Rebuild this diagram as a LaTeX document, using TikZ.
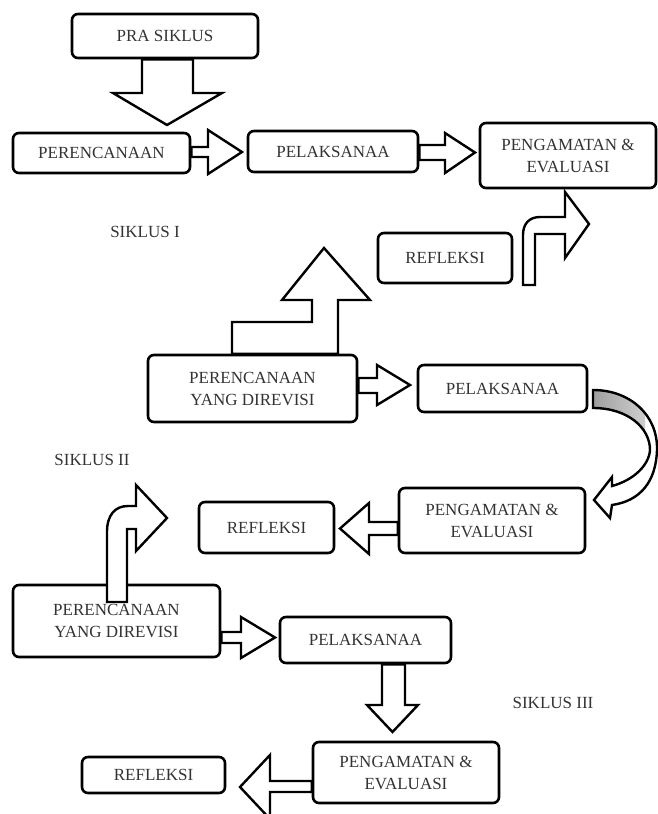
\documentclass[tikz,border=0pt]{standalone}
\usepackage{fontspec}
\setmainfont{Liberation Serif}
\begin{document}
\begin{tikzpicture}[x=1pt,y=-1pt,
  box/.style={draw=black, line width=2.6pt, rounded corners=6pt, fill=white, align=center,
    font=\fontsize{17}{22}\selectfont, text=black!80, inner sep=0pt},
  blk/.style={draw=black, line width=2.4pt, fill=white, line join=miter},
  lbl/.style={font=\fontsize{17}{20}\selectfont, text=black!80, inner sep=0pt}]
\useasboundingbox (0,0) rectangle (658,814);

% boxes
\node[box, minimum width=186pt, minimum height=44pt] (pra) at (165,36) {PRA SIKLUS};
\node[box, minimum width=177pt, minimum height=40pt] (per1) at (101.5,153) {PERENCANAAN};
\node[box, minimum width=170pt, minimum height=41pt] (pel1) at (333,151.5) {PELAKSANAA};
\node[box, minimum width=176pt, minimum height=65pt] (pen1) at (568,155.5) {PENGAMATAN \&\\EVALUASI};
\node[box, minimum width=134pt, minimum height=50pt] (ref1) at (445,258) {REFLEKSI};
\node[box, minimum width=209pt, minimum height=67pt] (per2) at (252.5,388.5) {PERENCANAAN\\YANG DIREVISI};
\node[box, minimum width=169pt, minimum height=47pt] (pel2) at (502.5,388.5) {PELAKSANAA};
\node[box, minimum width=186pt, minimum height=65pt] (pen2) at (492,520.5) {PENGAMATAN \&\\EVALUASI};
\node[box, minimum width=135pt, minimum height=51pt] (ref2) at (266.5,527.5) {REFLEKSI};
\node[box, minimum width=207pt, minimum height=72pt] (per3) at (116.5,621) {PERENCANAAN\\YANG DIREVISI};
\node[box, minimum width=171pt, minimum height=46pt] (pel3) at (365.5,640) {PELAKSANAA};
\node[box, minimum width=186pt, minimum height=61pt] (pen3) at (406,772.5) {PENGAMATAN \&\\EVALUASI};
\node[box, minimum width=143pt, minimum height=36pt] (ref3) at (153.5,775) {REFLEKSI};

% labels
\node[lbl] (s1) at (145,232) {SIKLUS I};
\node[lbl] (s2) at (92,460) {SIKLUS II};
\node[lbl] (s3) at (553,703) {SIKLUS III};

% block arrows
\draw[blk] (pra.south -| 142,0) -- (142,93) -- (113,93) -- (167,125) -- (222,93) -- (193,93) -- (pra.south -| 193,0) -- cycle;
\draw[blk] (per1.east |- 0,147) -- (208,147) -- (208,130) -- (242,152) -- (208,174) -- (208,157) -- (per1.east |- 0,157) -- cycle;
\draw[blk] (pel1.east |- 0,145) -- (445,145) -- (445,133) -- (475,152.5) -- (445,173) -- (445,160) -- (pel1.east |- 0,160) -- cycle;
\draw[blk] (523,285) -- (523,235) .. controls (523,224) and (529,217) .. (540,217) -- (565,217) -- (565,192) -- (589,224) -- (565,258) -- (565,234) -- (535,234) -- (535,285) -- cycle;
\draw[blk] (per2.north -| 232,0) -- (232,322) -- (312,322) -- (312,300) -- (282,300) -- (324,248) -- (370,300) -- (338,300) -- (per2.north -| 338,0) -- cycle;
\draw[blk] (per2.east |- 0,378) -- (377,378) -- (377,365) -- (410,385) -- (377,405) -- (377,393) -- (per2.east |- 0,393) -- cycle;

% curved arrow
\def\crvpath{(593,390) .. controls (630,390) and (658,415) .. (657,450) .. controls (656,482) and (640,501) .. (612,505) -- (610,518) -- (594,500) -- (612,477) -- (612,486) .. controls (634,480) and (649,465) .. (650,450) .. controls (650,428) and (628,408) .. (593,408) -- cycle}
\fill[white] \crvpath;
\begin{scope}
  \clip (585,380) rectangle (645,432);
  \shade[left color=gray!75, right color=gray!30] \crvpath;
\end{scope}
\draw[blk, fill=none] \crvpath;

\draw[blk] (pen2.west |- 0,522) -- (369,522) -- (369,503) -- (340,528.5) -- (369,554) -- (369,535) -- (pen2.west |- 0,535) -- cycle;
\draw[blk] (107,602) -- (107,532) .. controls (107,515) and (115,506) .. (128,506) -- (136,506) -- (136,485) -- (167,518) -- (136,551) -- (136,529) -- (127,529) -- (127,602) -- cycle;
\draw[blk] (per3.east |- 0,632) -- (241,632) -- (241,617) -- (275,637.5) -- (241,658) -- (241,643) -- (per3.east |- 0,643) -- cycle;
\draw[blk] (pel3.south -| 382,0) -- (382,705) -- (367,705) -- (392.5,732) -- (418,705) -- (405,705) -- (pel3.south -| 405,0) -- cycle;
\draw[blk] (pen3.west |- 0,781) -- (270,781) -- (270,755) -- (240,787) -- (270,819) -- (270,792) -- (pen3.west |- 0,792) -- cycle;
\end{tikzpicture}
\end{document}
